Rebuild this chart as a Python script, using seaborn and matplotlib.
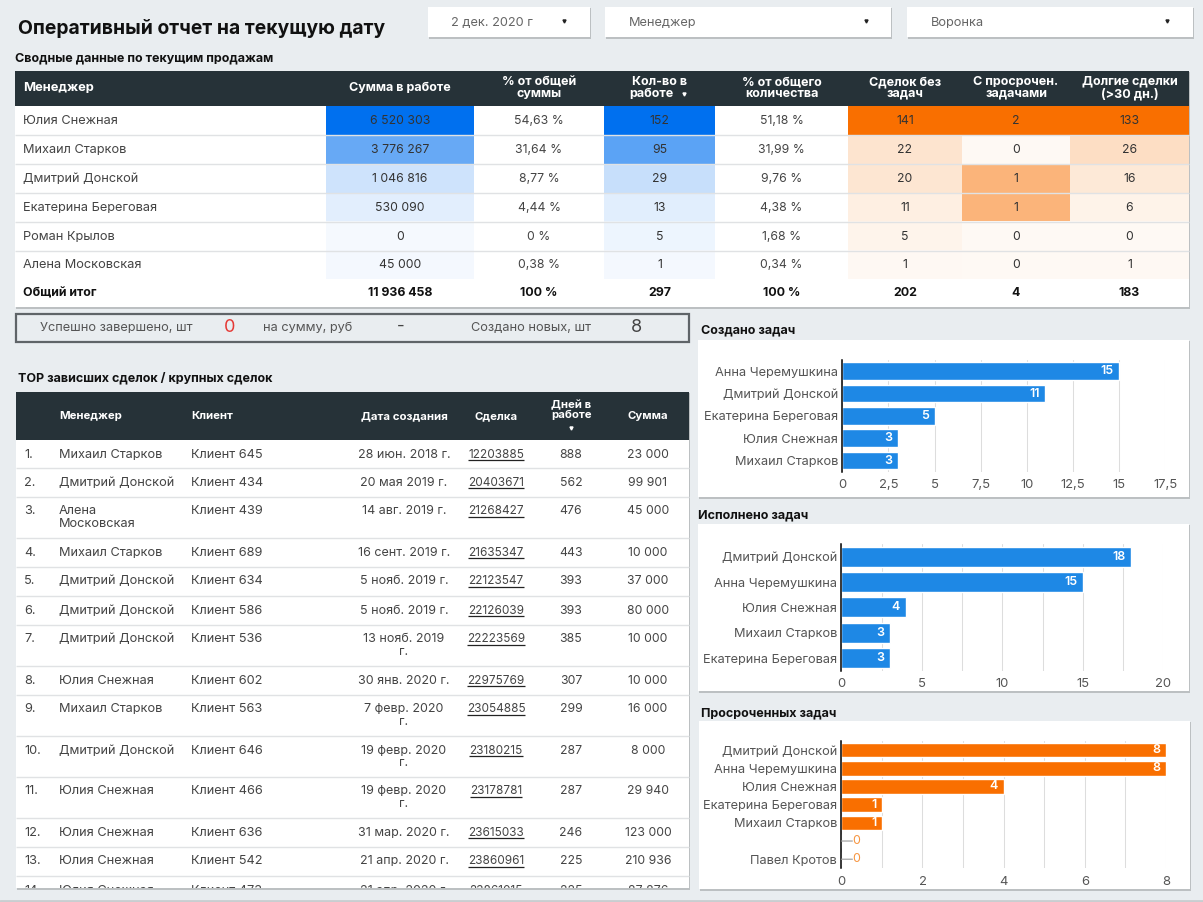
import numpy as np
import pandas as pd
import seaborn as sns
import matplotlib.pyplot as plt
from matplotlib.colors import LinearSegmentedColormap
from matplotlib.patches import Rectangle
from matplotlib.ticker import FuncFormatter, MultipleLocator

W, H = 1203, 902

# --- summary table ---
managers = ["Юлия Снежная", "Михаил Старков", "Дмитрий Донской",
            "Екатерина Береговая", "Роман Крылов", "Алена Московская"]
sum_work = [6520303, 3776267, 1046816, 530090, 0, 45000]
sum_pct = ["54,63 %", "31,64 %", "8,77 %", "4,44 %", "0 %", "0,38 %"]
cnt_work = [152, 95, 29, 13, 5, 1]
cnt_pct = ["51,18 %", "31,99 %", "9,76 %", "4,38 %", "1,68 %", "0,34 %"]
no_tasks = [141, 22, 20, 11, 5, 1]
overdue = [2, 0, 1, 1, 0, 0]
long_deals = [133, 26, 16, 6, 0, 1]
totals = ["Общий итог", "11 936 458", "100 %", "297", "100 %", "202", "4", "183"]

# --- top deals table ---
top_managers = ["Михаил Старков", "Дмитрий Донской", "Алена\nМосковская", "Михаил Старков",
                "Дмитрий Донской", "Дмитрий Донской", "Дмитрий Донской", "Юлия Снежная",
                "Михаил Старков", "Дмитрий Донской", "Юлия Снежная", "Юлия Снежная",
                "Юлия Снежная", "Юлия Снежная"]
top_clients = ["Клиент 645", "Клиент 434", "Клиент 439", "Клиент 689", "Клиент 634",
               "Клиент 586", "Клиент 536", "Клиент 602", "Клиент 563", "Клиент 646",
               "Клиент 466", "Клиент 636", "Клиент 542", "Клиент 473"]
top_dates = ["28 июн. 2018 г.", "20 мая 2019 г.", "14 авг. 2019 г.", "16 сент. 2019 г.",
             "5 нояб. 2019 г.", "5 нояб. 2019 г.", "13 нояб. 2019\nг.", "30 янв. 2020 г.",
             "7 февр. 2020\nг.", "19 февр. 2020\nг.", "19 февр. 2020\nг.", "31 мар. 2020 г.",
             "21 апр. 2020 г.", "21 апр. 2020 г."]
top_deals = ["12203885", "20403671", "21268427", "21635347", "22123547", "22126039",
             "22223569", "22975769", "23054885", "23180215", "23178781", "23615033",
             "23860961", "23861015"]
top_days = [888, 562, 476, 443, 393, 393, 385, 307, 299, 287, 287, 246, 225, 225]
top_sums = ["23 000", "99 901", "45 000", "10 000", "37 000", "80 000", "10 000", "10 000",
            "16 000", "8 000", "29 940", "123 000", "210 936", "87 876"]

# --- bar charts ---
created_names = ["Анна Черемушкина", "Дмитрий Донской", "Екатерина Береговая",
                 "Юлия Снежная", "Михаил Старков"]
created_vals = [15, 11, 5, 3, 3]
done_names = ["Дмитрий Донской", "Анна Черемушкина", "Юлия Снежная",
              "Михаил Старков", "Екатерина Береговая"]
done_vals = [18, 15, 4, 3, 3]
late_names = ["Дмитрий Донской", "Анна Черемушкина", "Юлия Снежная",
              "Екатерина Береговая", "Михаил Старков", "", "Павел Кротов"]
late_vals = [8, 8, 4, 1, 1, 0, 0]

BG = "#e9edf0"
DARK = "#263238"
TXT = "#444444"
BLUE = "#1e88e5"
ORANGE = "#f96f00"
FONT = ["Inter", "DejaVu Sans"]
NUM = 8.8

sns.set_theme(style="white")
plt.rcParams["font.family"] = FONT

fig = plt.figure(figsize=(W / 100, H / 100), dpi=100, facecolor=BG)


def px_axes(x0, y0, x1, y1, z=1):
    return fig.add_axes([x0 / W, 1 - y1 / H, (x1 - x0) / W, (y1 - y0) / H], zorder=z)


bg = px_axes(0, 0, W, H, 0)
bg.set_xlim(0, W)
bg.set_ylim(H, 0)
bg.axis("off")
top = px_axes(0, 0, W, H, 5)
top.set_xlim(0, W)
top.set_ylim(H, 0)
top.axis("off")
top.patch.set_alpha(0)


def card(x0, y0, x1, y1, color="white"):
    bg.add_patch(Rectangle((x0 + 0.5, y0 + 1), x1 - x0, y1 - y0 + 1, color="#bcc0c2", lw=0))
    r = Rectangle((x0, y0), x1 - x0, y1 - y0, color=color, lw=0)
    bg.add_patch(r)
    return r


def txt(x, y, s, size=9.2, color=TXT, ha="left", weight="normal", ax=None, **kw):
    return (ax or bg).text(x, y + 1, s, fontsize=size, color=color, ha=ha, va="center",
                           weight=weight, **kw)


# header and filters
txt(18, 27, "Оперативный отчет на текущую дату", size=13.9, color="#111111", weight="bold")
bg.axhline(900.5, color="#c9cdd0", lw=2)
filters = [(428, 590, "2 дек. 2020 г", 451, 564), (605, 891, "Менеджер", 629, 866),
           (907, 1193, "Воронка", 931, 1167)]
for x0, x1, label, tx, arrow in filters:
    card(x0, 7, x1, 37)
    txt(tx, 22, label, color="#666666", size=9.2)
    bg.plot(arrow, 21, marker="v", ms=2.2, color="#222222")

# summary table
txt(15, 57, "Сводные данные по текущим продажам", size=9, color="#111111", weight="bold")
card(15, 71, 1189, 307)
bg.add_patch(Rectangle((15, 71), 1174, 35, color=DARK, lw=0))
col_x = [326, 474, 604, 715, 848, 962, 1070, 1189]
row_y = [106, 135, 164, 193, 222, 250.5, 279]
heads = ["Сумма в работе", "% от общей\nсуммы", "", "% от общего\nколичества",
         "Сделок без\nзадач", "С просрочен.\nзадачами", "Долгие сделки\n(>30 дн.)"]
txt(23, 87, "Менеджер", color="white", weight="bold", size=9.3)
for i, h in enumerate(heads):
    txt((col_x[i] + col_x[i + 1]) / 2, 87, h, color="white", weight="bold", size=9,
        ha="center", linespacing=0.98)
txt(660, 81, "Кол-во в", color="white", weight="bold", size=9, ha="center")
txt(651, 93, "работе", color="white", weight="bold", size=9, ha="center")
bg.plot(684, 94, marker="v", ms=2.2, color="white")
for i, m in enumerate(managers):
    cy = (row_y[i] + row_y[i + 1]) / 2
    txt(23, cy - 0.5, m)
    txt(539, cy - 0.5, sum_pct[i], ha="center", size=NUM)
    txt(781.5, cy - 0.5, cnt_pct[i], ha="center", size=NUM)
bluemap = LinearSegmentedColormap.from_list("b", ["#f5f9fe", "#0070ef"])
orangemap = LinearSegmentedColormap.from_list("o", ["#fef9f4", ORANGE])


def heat_col(values, i, cmap):
    ax = px_axes(col_x[i], row_y[0], col_x[i + 1], row_y[-1], 2)
    arr = np.array(values, dtype=float).reshape(-1, 1)
    labels = [[f"{v:,}".replace(",", " ")] for v in values]
    sns.heatmap(arr, ax=ax, cmap=cmap, vmin=0, vmax=max(values), cbar=False, annot=labels,
                fmt="", xticklabels=False, yticklabels=False,
                annot_kws={"fontsize": NUM, "color": TXT})
    for t in ax.texts:
        t.set_color("#333333")
        x, y = t.get_position()
        t.set_position((x, y + 0.03))


heat_col(sum_work, 0, bluemap)
heat_col(cnt_work, 2, bluemap)
heat_col(no_tasks, 4, orangemap)
heat_col(overdue, 5, orangemap)
heat_col(long_deals, 6, orangemap)
for y in row_y[1:-1]:
    top.hlines(y, 15, 1189, color="#e0e2e4", lw=1)
total_x = [23, 400, 539, 660, 781.5, 905, 1016, 1129.5]
for i, t in enumerate(totals):
    txt(total_x[i], 292, t, color="#111111", weight="bold", size=8.9, ha="left" if i == 0 else "center")

# KPI strip
bg.add_patch(Rectangle((16, 314), 673, 28, fill=False, ec="#5f6468", lw=1.6))
txt(116.5, 327, "Успешно завершено, шт", ha="center", color="#555555")
txt(230, 326, "0", size=13, color="#e53935", ha="center")
txt(308, 327, "на сумму, руб", ha="center", color="#555555")
txt(401, 325, "-", size=12, ha="center")
txt(531, 327, "Создано новых, шт", ha="center", color="#555555")
txt(636, 326, "8", size=13, ha="center")

# top deals table
txt(18, 377, "TOP зависших сделок / крупных сделок", size=9, color="#111111", weight="bold")
clip = card(16, 392, 689, 888)
bg.add_patch(Rectangle((16, 392), 673, 48, color=DARK, lw=0))
hd = dict(color="white", weight="bold", size=8.2)
txt(59, 415, "Менеджер", **hd)
txt(191, 415, "Клиент", **hd)
txt(404, 415, "Дата создания", ha="center", **hd)
txt(496, 415, "Сделка", ha="center", **hd)
txt(571, 409, "Дней в\nработе", ha="center", linespacing=0.98, **hd)
bg.plot(571, 428, marker="v", ms=2.2, color="white")
txt(648, 415, "Сумма", ha="center", **hd)
row_tops = [440, 468, 497, 538, 567, 596, 625, 666, 695, 736, 777, 818, 847, 876]
rend = fig.canvas.get_renderer()


def cell(x, y0, s, ha="left", size=9.2):
    out = []
    for k, line in enumerate(s.split("\n")):
        t = txt(x, y0 + 13.5 + k * 12.5, line, ha=ha, size=size, clip_on=True)
        t.set_clip_path(clip)
        out.append(t)
    return out


for i, y0 in enumerate(row_tops):
    if i > 0:
        bg.hlines(y0, 16, 689, color="#e0e2e4", lw=1)
    cell(24, y0, f"{i + 1}.")
    cell(59, y0, top_managers[i])
    cell(191, y0, top_clients[i])
    cell(404, y0, top_dates[i], ha="center", size=9)
    t = cell(496, y0, top_deals[i], ha="center", size=8.5)[0]
    ext = t.get_window_extent(rend)
    line = bg.hlines(y0 + 20, ext.x0, ext.x1, color="#222222", lw=0.9)
    line.set_clip_path(clip)
    cell(571, y0, str(top_days[i]), ha="center", size=NUM)
    cell(648, y0, top_sums[i], ha="center", size=NUM)


def comma(v, pos):
    return f"{v:g}".replace(".", ",")


def bar_chart(title, tx, ty, box, area, names, vals, color, xmax, major, minor):
    txt(tx, ty, title, size=9, color="#111111", weight="bold")
    card(*box)
    ax = px_axes(*area, 2)
    df = pd.DataFrame({"name": names, "value": vals})
    sns.barplot(data=df, x="value", y="name", orient="h", color=color, saturation=1, width=0.8, ax=ax)
    ax.patch.set_alpha(0)
    ax.set_xlim(0, xmax)
    ax.set_xlabel("")
    ax.set_ylabel("")
    ax.xaxis.set_major_locator(MultipleLocator(major))
    ax.xaxis.set_minor_locator(MultipleLocator(minor))
    ax.xaxis.set_major_formatter(FuncFormatter(comma))
    ax.grid(axis="x", which="both", color="#dddddd", lw=0.75)
    ax.set_axisbelow(True)
    sns.despine(ax=ax, top=True, right=True, bottom=True)
    ax.spines["left"].set_color("black")
    ax.spines["left"].set_linewidth(1.1)
    ax.tick_params(axis="y", which="both", length=0, labelsize=9.2, labelcolor="#555555", pad=3)
    ax.tick_params(axis="x", which="both", length=0, labelsize=9.4, labelcolor="#555555", pad=5.5)
    for i, v in enumerate(vals):
        if v > 0:
            ax.annotate(str(v), (v, i), xytext=(-4, 0), textcoords="offset points", ha="right",
                        va="center", color="white", fontsize=9, weight="semibold")
        else:
            ax.annotate(str(v), (v, i), xytext=(8, 0), textcoords="offset points", ha="left",
                        va="center", color="#f79540", fontsize=9,
                        arrowprops=dict(arrowstyle="-", color="#999999", lw=0.8, relpos=(0, 0.5),
                                        shrinkA=0, shrinkB=0, patchA=None))
    return ax


bar_chart("Создано задач", 701, 329, (698, 340, 1189, 497), (842.3, 360, 1165.3, 471.7),
          created_names, created_vals, BLUE, 17.5, 2.5, 2.5)
bar_chart("Исполнено задач", 698, 514, (698, 524, 1189, 691), (841.3, 544, 1163.3, 670.7),
          done_names, done_vals, BLUE, 20, 5, 2.5)
bar_chart("Просроченных задач", 701, 712, (699, 721, 1190, 889), (841.3, 741, 1166, 868.3),
          late_names, late_vals, ORANGE, 8, 2, 1)

fig.savefig("out.png", dpi=100, facecolor=BG)
